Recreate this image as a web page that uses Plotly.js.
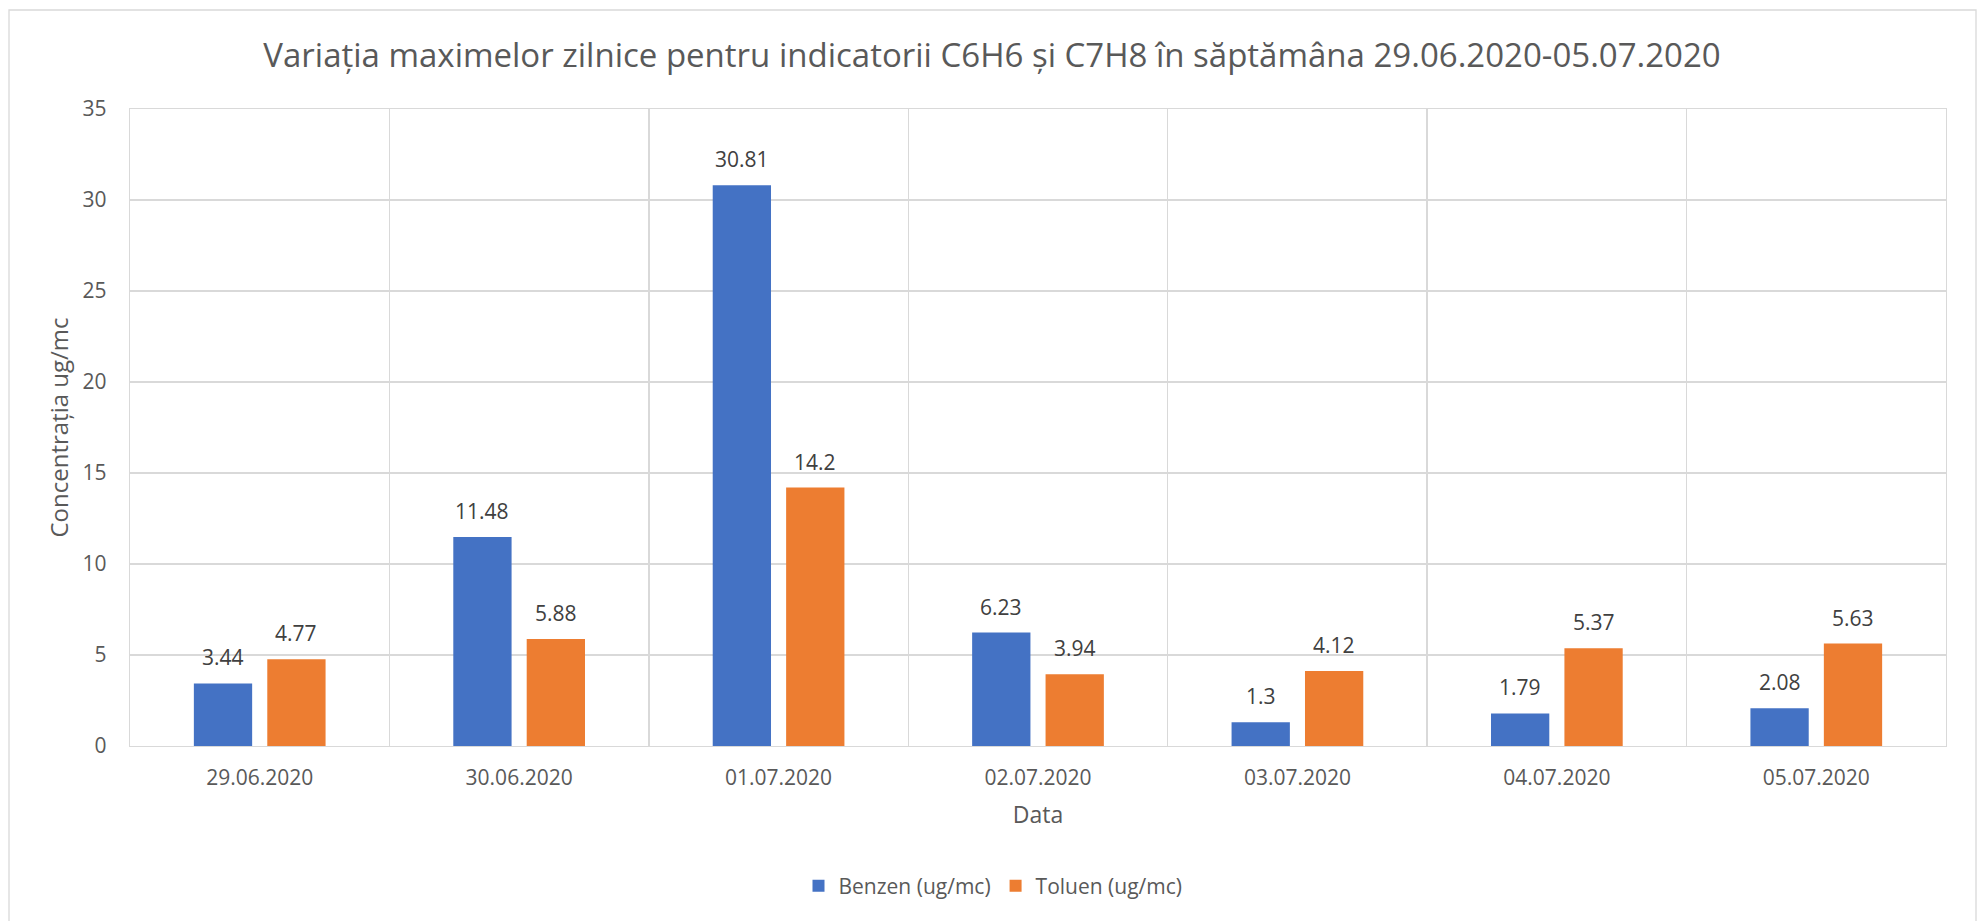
<!DOCTYPE html>
<html>
<head>
<meta charset="utf-8">
<script src="https://cdn.plot.ly/plotly-3.0.1.min.js"></script>
<style>
  html, body { margin: 0; padding: 0; background: #ffffff; }
  #chart { width: 1977px; height: 921px; }
</style>
</head>
<body>
<div id="chart"></div>
<script>
// ---- data ----
const categories = ["29.06.2020", "30.06.2020", "01.07.2020", "02.07.2020", "03.07.2020", "04.07.2020", "05.07.2020"];
const benzen = [3.44, 11.48, 30.81, 6.23, 1.3, 1.79, 2.08];
const toluen = [4.77, 5.88, 14.2, 3.94, 4.12, 5.37, 5.63];
const seriesNames = ["Benzen (ug/mc)", "Toluen (ug/mc)"];
const yTicks = [0, 5, 10, 15, 20, 25, 30, 35];

// ---- layout constants ----
const W = 1977, H = 921;
const L = 130, R = 1946, T = 109, B = 746;
const plotW = R - L, plotH = B - T;
const bargap = 0.434, bargroupgap = 0.206;
const catW = plotW / categories.length;
const shift = (1 - bargap) * catW / 4;

const FONT = '"Open Sans", "Noto Sans", sans-serif';
const GRAY = '#595959';
const GRID = '#d9d9d9';

const traces = [
  { type: 'bar', name: seriesNames[0], x: categories, y: benzen,
    marker: { color: '#4472C4' }, hoverinfo: 'y' },
  { type: 'bar', name: seriesNames[1], x: categories, y: toluen,
    marker: { color: '#ED7D31' }, hoverinfo: 'y' }
];

const annotations = [];
[benzen, toluen].forEach((vals, si) => {
  vals.forEach((v, i) => {
    annotations.push({
      x: categories[i], y: v, xref: 'x', yref: 'y',
      text: String(v), showarrow: false,
      xanchor: 'center', yanchor: 'bottom',
      xshift: si === 0 ? -shift : shift, yshift: 10,
      font: { family: FONT, size: 21, color: '#404040' }
    });
  });
});

const px2x = p => (p - L) / plotW;
const px2y = p => (B - p) / plotH;

const layout = {
  width: W, height: H,
  margin: { l: L, r: W - R, t: T, b: H - B, pad: 0 },
  paper_bgcolor: '#ffffff', plot_bgcolor: '#ffffff',
  barmode: 'group', bargap: bargap, bargroupgap: bargroupgap,
  showlegend: true,
  font: { family: FONT, color: GRAY, size: 21 },
  title: {
    text: 'Variația maximelor zilnice pentru indicatorii C6H6 și C7H8 în săptămâna 29.06.2020-05.07.2020',
    font: { family: FONT, size: 33, color: GRAY },
    x: 992 / W, xref: 'container', xanchor: 'center',
    y: 1 - 55 / H, yref: 'container', yanchor: 'middle'
  },
  xaxis: {
    type: 'category',
    tickson: 'boundaries',
    showgrid: true, gridcolor: GRID, gridwidth: 1.3,
    showline: true, linecolor: GRID, linewidth: 1.3, mirror: true,
    zeroline: false, ticks: '', ticklabelstandoff: 12,
    tickfont: { family: FONT, size: 21, color: GRAY },
    title: { text: 'Data', font: { family: FONT, size: 23, color: GRAY }, standoff: 17 },
    fixedrange: true
  },
  yaxis: {
    range: [0, 35], tickvals: yTicks, ticktext: yTicks.map(String),
    showgrid: true, gridcolor: GRID, gridwidth: 1.3,
    showline: true, linecolor: GRID, linewidth: 1.3, mirror: true,
    zeroline: false, ticks: '', ticklabelstandoff: 18,
    tickfont: { family: FONT, size: 21, color: GRAY },
    title: { text: 'Concentrația ug/mc', font: { family: FONT, size: 24, color: GRAY }, standoff: 7 },
    fixedrange: true
  },
  legend: {
    orientation: 'h',
    x: 993 / W, xref: 'container', xanchor: 'center',
    y: 1 - 886 / H, yref: 'container', yanchor: 'middle',
    font: { family: FONT, size: 21, color: GRAY },
    bgcolor: 'rgba(0,0,0,0)'
  },
  annotations: annotations,
  shapes: [{
    type: 'rect', xref: 'paper', yref: 'paper', layer: 'below',
    x0: px2x(9), x1: px2x(1976), y0: px2y(930), y1: px2y(10),
    line: { color: GRID, width: 1.3 }, fillcolor: 'rgba(0,0,0,0)'
  }]
};

Plotly.newPlot('chart', traces, layout, { displayModeBar: false, staticPlot: true });
</script>
</body>
</html>
